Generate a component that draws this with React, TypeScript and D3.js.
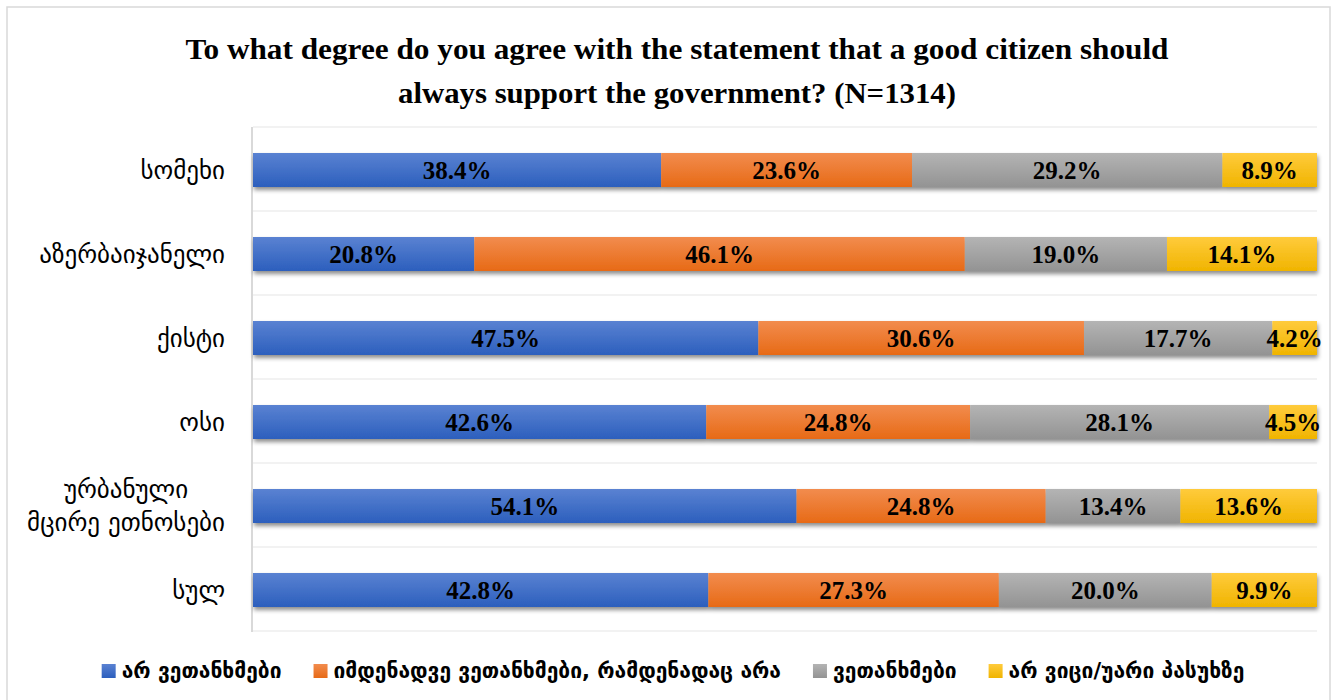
import React, { useEffect, useRef } from "react";
import * as d3 from "d3";

const categories = [
  "სომეხი",
  "აზერბაიჯანელი",
  "ქისტი",
  "ოსი",
  "ურბანული\nმცირე ეთნოსები",
  "სულ",
];
const seriesNames = [
  "არ ვეთანხმები",
  "იმდენადვე ვეთანხმები, რამდენადაც არა",
  "ვეთანხმები",
  "არ ვიცი/უარი პასუხზე",
];
const disagree = [38.4, 20.8, 47.5, 42.6, 54.1, 42.8];
const neutral = [23.6, 46.1, 30.6, 24.8, 24.8, 27.3];
const agree = [29.2, 19.0, 17.7, 28.1, 13.4, 20.0];
const dontKnow = [8.9, 14.1, 4.2, 4.5, 13.6, 9.9];
const titleLines = [
  "To what degree do you agree with the statement that a good citizen should",
  "always support the government? (N=1314)",
];

const gradients = [
  ["#5a82d2", "#2c5fbd"],
  ["#f28c4e", "#e76a16"],
  ["#b4b4b4", "#939393"],
  ["#ffcb3c", "#f0b400"],
];

const W = 1335;
const H = 700;
const GEO = "'DejaVu Sans', 'Noto Sans', sans-serif";
const SERIF = "'Liberation Serif', 'DejaVu Serif', serif";

export default function App() {
  const ref = useRef<SVGSVGElement>(null);

  useEffect(() => {
    const svg = d3.select(ref.current);
    svg.selectAll("*").remove();

    const defs = svg.append("defs");
    gradients.forEach((g, i) => {
      const lg = defs
        .append("linearGradient")
        .attr("id", "grad" + i)
        .attr("x1", 0)
        .attr("y1", 0)
        .attr("x2", 0)
        .attr("y2", 1);
      lg.append("stop").attr("offset", "0%").attr("stop-color", g[0]);
      lg.append("stop").attr("offset", "100%").attr("stop-color", g[1]);
    });
    const f = defs
      .append("filter")
      .attr("id", "shadow")
      .attr("x", "-5%")
      .attr("y", "-30%")
      .attr("width", "110%")
      .attr("height", "180%");
    f.append("feDropShadow")
      .attr("dx", 1)
      .attr("dy", 3)
      .attr("stdDeviation", 2)
      .attr("flood-color", "#000")
      .attr("flood-opacity", 0.45);

    // outer border
    svg
      .append("rect")
      .attr("x", 7)
      .attr("y", 7)
      .attr("width", 1323)
      .attr("height", 720)
      .attr("fill", "#fff")
      .attr("stroke", "#d9d9d9")
      .attr("stroke-width", 1.5);

    // title
    const titleWidths = [983, 558];
    titleLines.forEach((t, i) => {
      svg
        .append("text")
        .attr("x", 677)
        .attr("y", 59 + i * 44)
        .attr("text-anchor", "middle")
        .attr("font-family", SERIF)
        .attr("font-weight", "bold")
        .attr("font-size", 30)
        .attr("textLength", titleWidths[i])
        .attr("lengthAdjust", "spacingAndGlyphs")
        .attr("fill", "#000")
        .text(t);
    });

    const x = d3.scaleLinear().domain([0, 1]).range([253, 1317]);
    const yRow = d3.scaleBand<number>().domain(d3.range(categories.length)).range([127, 631]);
    const barH = 34;

    const rows = categories.map((c, i) => ({
      idx: i,
      s0: disagree[i],
      s1: neutral[i],
      s2: agree[i],
      s3: dontKnow[i],
    }));
    const keys = ["s0", "s1", "s2", "s3"];
    const stacked = d3.stack<any>().keys(keys).offset(d3.stackOffsetExpand)(rows);
    const raw = [disagree, neutral, agree, dontKnow];

    // gridlines (band boundaries)
    const bounds = d3.range(categories.length + 1).map((k) => 127 + k * yRow.step());
    svg
      .append("g")
      .selectAll("line")
      .data(bounds)
      .join("line")
      .attr("x1", 253)
      .attr("x2", 1317)
      .attr("y1", (d) => d)
      .attr("y2", (d) => d)
      .attr("stroke", "#eeeeee")
      .attr("stroke-width", 1.5);

    // axis line
    svg
      .append("line")
      .attr("x1", 252)
      .attr("x2", 252)
      .attr("y1", 127)
      .attr("y2", 632)
      .attr("stroke", "#d9d9d9")
      .attr("stroke-width", 2);

    const barsG = svg.append("g").attr("filter", "url(#shadow)");
    stacked.forEach((layer, si) => {
      barsG
        .append("g")
        .selectAll("rect")
        .data(layer)
        .join("rect")
        .attr("x", (d) => x(d[0]))
        .attr("width", (d) => x(d[1]) - x(d[0]))
        .attr("y", (d: any) => yRow(d.data.idx)! + yRow.bandwidth() / 2 - barH / 2 + 1)
        .attr("height", barH)
        .attr("fill", `url(#grad${si})`);
    });

    // labels
    stacked.forEach((layer, si) => {
      svg
        .append("g")
        .selectAll("text")
        .data(layer)
        .join("text")
        .attr("x", (d) => (x(d[0]) + x(d[1])) / 2)
        .attr("y", (d: any) => yRow(d.data.idx)! + yRow.bandwidth() / 2 + 1)
        .attr("dy", "0.35em")
        .attr("text-anchor", "middle")
        .attr("font-family", SERIF)
        .attr("font-weight", "bold")
        .attr("font-size", 25)
        .attr("fill", "#000")
        .text((d: any) => raw[si][d.data.idx].toFixed(1) + "%");
    });

    // category labels
    categories.forEach((c, i) => {
      const lines = c.split("\n");
      const cy = yRow(i)! + yRow.bandwidth() / 2 + 1;
      const lh = 33;
      const t = svg
        .append("text")
        .attr("text-anchor", "middle")
        .attr("font-family", GEO)
        .attr("font-size", 25)
        .attr("fill", "#000");
      const spans = lines.map((ln, k) =>
        t
          .append("tspan")
          .attr("y", cy + (k - (lines.length - 1) / 2) * lh)
          .attr("dy", "0.35em")
          .text(ln)
      );
      const maxW = d3.max(spans, (s) => (s.node() as SVGTSpanElement).getComputedTextLength())!;
      spans.forEach((s) => s.attr("x", 225 - maxW / 2));
    });

    // legend
    const lg = svg.append("g");
    const items = seriesNames.map((name, i) => {
      const g = lg.append("g");
      g.append("rect")
        .attr("width", 14)
        .attr("height", 14)
        .attr("y", -7)
        .attr("fill", `url(#grad${i})`);
      const t = g
        .append("text")
        .attr("x", 20)
        .attr("dy", "0.35em")
        .attr("font-family", GEO)
        .attr("font-size", 21)
        .attr("font-weight", "bold")
        .attr("fill", "#000")
        .text(name);
      const w = 20 + (t.node() as SVGTextElement).getComputedTextLength();
      return { g, w };
    });
    const gap = 32;
    const total = d3.sum(items, (d) => d.w) + gap * (items.length - 1);
    let cx = 673 - total / 2;
    items.forEach((it) => {
      it.g.attr("transform", `translate(${cx},671)`);
      cx += it.w + gap;
    });
  }, []);

  return (
    <svg
      ref={ref}
      width={W}
      height={H}
      style={{ position: "absolute", left: 0, top: 0, background: "#fff" }}
    />
  );
}
